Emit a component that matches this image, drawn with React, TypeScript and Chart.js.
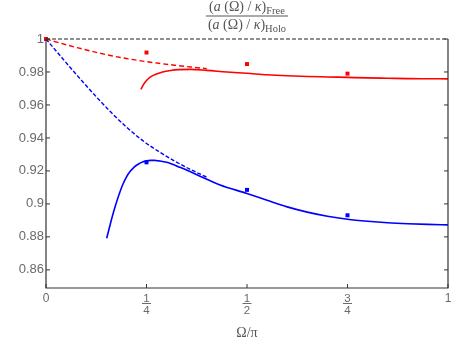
import React, { useEffect, useRef } from "react";
import { Chart, registerables } from "chart.js";

Chart.register(...registerables);

const xTicks = [0, 0.25, 0.5, 0.75, 1];
const xTickNum = ["0", "1", "1", "3", "1"];
const xTickDen = ["", "4", "2", "4", ""];
const yTicks = [0.86, 0.88, 0.9, 0.92, 0.94, 0.96, 0.98, 1];

const refX = [0, 1];
const refY = [1, 1];

const redDashX = [0, 0.04, 0.08, 0.12, 0.16, 0.2, 0.24, 0.28, 0.32, 0.36, 0.4];
const redDashY = [1, 0.9972, 0.9946, 0.9922, 0.99, 0.9882, 0.9866, 0.9853, 0.9841, 0.983, 0.982];

const redSolidX = [0.236, 0.242, 0.25, 0.26, 0.275, 0.29, 0.31, 0.33, 0.36, 0.4, 0.45, 0.5, 0.55, 0.6, 0.65, 0.7, 0.75, 0.8, 0.85, 0.9, 0.95, 1];
const redSolidY = [0.9695, 0.9722, 0.9748, 0.977, 0.9788, 0.98, 0.9809, 0.9814, 0.9816, 0.981, 0.98, 0.9792, 0.9783, 0.9777, 0.9773, 0.977, 0.9767, 0.9764, 0.9762, 0.976, 0.9759, 0.9758];

const blueDashX = [0, 0.04, 0.08, 0.12, 0.16, 0.2, 0.24, 0.28, 0.32, 0.36, 0.4];
const blueDashY = [1, 0.9885, 0.9772, 0.9663, 0.956, 0.9466, 0.9385, 0.9318, 0.926, 0.9208, 0.9162];

const blueSolidX = [0.151, 0.16, 0.17, 0.18, 0.19, 0.2, 0.21, 0.22, 0.23, 0.24, 0.25, 0.26, 0.27, 0.28, 0.3, 0.333, 0.358, 0.383, 0.4, 0.433, 0.5, 0.55, 0.6, 0.65, 0.7, 0.75, 0.8, 0.85, 0.9, 0.95, 1];
const blueSolidY = [0.8792, 0.8878, 0.8967, 0.9045, 0.9112, 0.9163, 0.9199, 0.9225, 0.9242, 0.9254, 0.9261, 0.9264, 0.9264, 0.9261, 0.9252, 0.9222, 0.9196, 0.9168, 0.915, 0.9115, 0.9063, 0.9022, 0.8982, 0.895, 0.8925, 0.8907, 0.8895, 0.8886, 0.888, 0.8876, 0.8873];

const redPtX = [0, 0.25, 0.5, 0.75];
const redPtY = [1, 0.9918, 0.9848, 0.979];
const bluePtX = [0, 0.25, 0.5, 0.75];
const bluePtY = [1, 0.9252, 0.9085, 0.8931];

const zip = (xs: number[], ys: number[]) => xs.map((x, i) => ({ x, y: ys[i] }));

const RED = "#ff0000";
const BLUE = "#0000ff";
const FRAME = "#333333";
const TICK_COLOR = "#6a6a6a";
const TITLE_COLOR = "#555555";

const framePlugin = {
  id: "framePlugin",
  afterDraw(chart: any) {
    const { ctx, chartArea, scales } = chart;
    const { left, right, top, bottom } = chartArea;
    const xs = scales.x;
    const ys = scales.y;
    ctx.save();
    ctx.strokeStyle = FRAME;
    ctx.lineWidth = 1.2;
    ctx.beginPath();
    ctx.moveTo(left, top);
    ctx.lineTo(left, bottom);
    ctx.lineTo(right, bottom);
    ctx.lineTo(right, top);
    ctx.stroke();
    ctx.lineWidth = 1;
    ctx.beginPath();
    yTicks.forEach((v) => {
      const py = ys.getPixelForValue(v);
      ctx.moveTo(left, py);
      ctx.lineTo(left + 4, py);
      ctx.moveTo(right, py);
      ctx.lineTo(right - 4, py);
    });
    xTicks.forEach((v) => {
      const px = xs.getPixelForValue(v);
      ctx.moveTo(px, bottom);
      ctx.lineTo(px, bottom - 4);
    });
    ctx.stroke();
    ctx.fillStyle = TICK_COLOR;
    ctx.strokeStyle = TICK_COLOR;
    ctx.textAlign = "center";
    ctx.textBaseline = "alphabetic";
    xTicks.forEach((v, i) => {
      const px = xs.getPixelForValue(v);
      if (!xTickDen[i]) {
        ctx.font = "12px 'Liberation Sans', Arial, sans-serif";
        ctx.fillText(xTickNum[i], px, bottom + 14);
      } else {
        ctx.font = "11.5px 'Liberation Sans', Arial, sans-serif";
        ctx.fillText(xTickNum[i], px, bottom + 13.5);
        ctx.lineWidth = 1;
        ctx.beginPath();
        ctx.moveTo(px - 4.5, bottom + 15.5);
        ctx.lineTo(px + 4.5, bottom + 15.5);
        ctx.stroke();
        ctx.fillText(xTickDen[i], px, bottom + 25.5);
      }
    });
    const cx = (left + right) / 2;
    ctx.fillStyle = TITLE_COLOR;
    ctx.font = "14px 'Liberation Serif', 'Times New Roman', serif";
    ctx.fillText("Ω/π", cx, 337);

    const drawExpr = (sub: string, baseline: number) => {
      const parts: { t: string; f: string; dy: number }[] = [
        { t: "(", f: "14px 'Liberation Serif', serif", dy: 0 },
        { t: "a", f: "italic 14px 'Liberation Serif', serif", dy: 0 },
        { t: " (Ω) / ", f: "14px 'Liberation Serif', serif", dy: 0 },
        { t: "κ", f: "italic 14px 'Liberation Serif', serif", dy: 0 },
        { t: ")", f: "14px 'Liberation Serif', serif", dy: 0 },
        { t: sub, f: "10.5px 'Liberation Serif', serif", dy: 3 },
      ];
      let total = 0;
      const widths = parts.map((p) => {
        ctx.font = p.f;
        const w = ctx.measureText(p.t).width;
        total += w;
        return w;
      });
      let x = cx - total / 2;
      ctx.textAlign = "left";
      parts.forEach((p, i) => {
        ctx.font = p.f;
        ctx.fillText(p.t, x, baseline + p.dy);
        x += widths[i];
      });
      return total;
    };
    ctx.fillStyle = TITLE_COLOR;
    const w1 = drawExpr("Free", 11);
    const w2 = drawExpr("Holo", 29);
    const bw = Math.max(w1, w2) + 4;
    ctx.strokeStyle = TITLE_COLOR;
    ctx.lineWidth = 1;
    ctx.beginPath();
    ctx.moveTo(cx - bw / 2, 16);
    ctx.lineTo(cx + bw / 2, 16);
    ctx.stroke();
    ctx.restore();
  },
};

export default function App() {
  const ref = useRef<HTMLCanvasElement | null>(null);
  useEffect(() => {
    if (!ref.current) return;
    const lineDs = (label: string, xs: number[], ys: number[], color: string, dash: number[], width: number) => ({
      label,
      data: zip(xs, ys),
      showLine: true,
      borderColor: color,
      backgroundColor: color,
      borderWidth: width,
      borderDash: dash,
      pointRadius: 0,
      cubicInterpolationMode: "monotone",
      clip: false,
    });
    const ptDs = (label: string, xs: number[], ys: number[], color: string) => ({
      label,
      data: zip(xs, ys),
      showLine: false,
      pointStyle: "rect",
      pointRadius: 2.8,
      borderWidth: 0,
      backgroundColor: color,
      borderColor: color,
      clip: false,
    });
    const chart = new Chart(ref.current, {
      type: "scatter",
      data: {
        datasets: [
          lineDs("ref", refX, refY, "#222222", [4, 2], 1),
          lineDs("redDash", redDashX, redDashY, RED, [5, 3], 1.4),
          lineDs("blueDash", blueDashX, blueDashY, BLUE, [4, 2], 1.4),
          lineDs("redSolid", redSolidX, redSolidY, RED, [], 1.6),
          lineDs("blueSolid", blueSolidX, blueSolidY, BLUE, [], 1.6),
          ptDs("redPts", redPtX, redPtY, RED),
          ptDs("bluePts", bluePtX, bluePtY, BLUE),
        ] as any,
      },
      options: {
        animation: false,
        responsive: false,
        layout: { padding: { top: 39, right: 26, left: 0, bottom: 0 } },
        plugins: { legend: { display: false }, tooltip: { enabled: false }, title: { display: false } },
        scales: {
          x: {
            type: "linear",
            min: 0,
            max: 1,
            grid: { display: false },
            border: { display: false },
            ticks: { display: false },
            afterBuildTicks: (s: any) => {
              s.ticks = xTicks.map((v) => ({ value: v }));
            },
            afterFit: (s: any) => {
              s.height = 52;
            },
          },
          y: {
            type: "linear",
            min: 0.849,
            max: 1,
            grid: { display: false, drawTicks: false },
            border: { display: false },
            ticks: {
              color: TICK_COLOR,
              padding: 2,
              font: { family: "'Liberation Sans', Arial, sans-serif", size: 13 },
              callback: (v: any) => String(Number(Number(v).toFixed(2))),
            },
            afterBuildTicks: (s: any) => {
              s.ticks = yTicks.map((v) => ({ value: v }));
            },
            afterFit: (s: any) => {
              s.width = 46;
            },
          },
        },
      } as any,
      plugins: [framePlugin],
    });
    return () => chart.destroy();
  }, []);
  return (
    <div style={{ position: "fixed", left: 0, top: 0, width: 474, height: 340, background: "#fff" }}>
      <canvas ref={ref} width={474} height={340} style={{ width: 474, height: 340 }} />
    </div>
  );
}
